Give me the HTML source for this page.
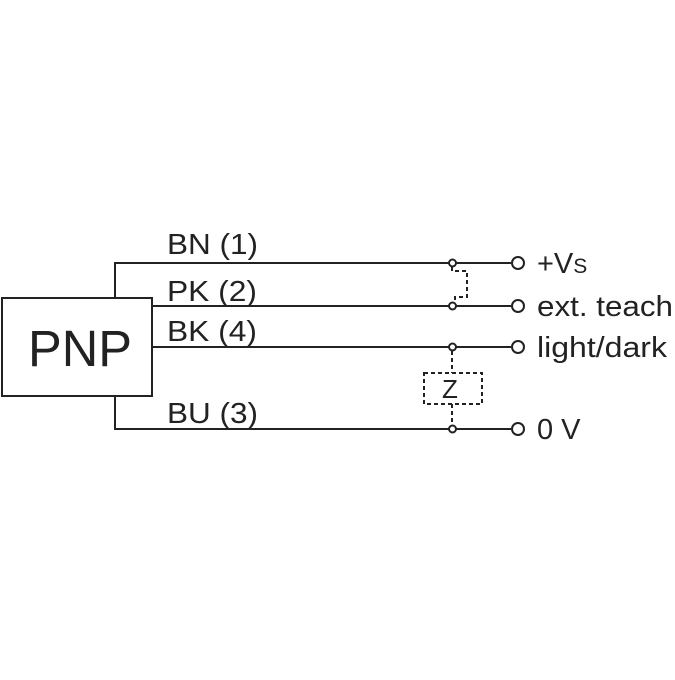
<!DOCTYPE html>
<html><head><style>body{margin:0;background:#fff}</style></head><body>
<svg width="675" height="675" xmlns="http://www.w3.org/2000/svg" font-family="Liberation Sans, sans-serif" fill="#222">
<g stroke="#222" stroke-width="2" fill="none">
<rect x="2" y="298" width="150" height="98"/>
<polyline points="115,298 115,263 449,263"/>
<line x1="152" y1="306" x2="449" y2="306"/>
<line x1="152" y1="347" x2="449" y2="347"/>
<polyline points="115,396 115,429 449,429"/>
<line x1="456" y1="263" x2="511" y2="263"/>
<line x1="456" y1="306" x2="511" y2="306"/>
<line x1="456" y1="347" x2="511" y2="347"/>
<line x1="456" y1="429" x2="511" y2="429"/>
<circle cx="452.5" cy="263" r="3.5" fill="#fff"/>
<circle cx="452.5" cy="306" r="3.5" fill="#fff"/>
<circle cx="452.5" cy="347" r="3.5" fill="#fff"/>
<circle cx="452.5" cy="429" r="3.5" fill="#fff"/>
<circle cx="518" cy="263" r="6" fill="#fff"/>
<circle cx="518" cy="306" r="6" fill="#fff"/>
<circle cx="518" cy="347" r="6" fill="#fff"/>
<circle cx="518" cy="429" r="6" fill="#fff"/>
<g stroke-dasharray="4,3">
<polyline points="452,267 452,271 467,271 467,297 455,297 455,302"/>
<line x1="452" y1="351" x2="452" y2="373"/>
<rect x="424" y="373" width="58" height="31"/>
<line x1="452" y1="404" x2="452" y2="425"/>
</g>
</g>
<text x="28" y="366" font-size="51" textLength="104" lengthAdjust="spacingAndGlyphs">PNP</text>
<g font-size="29">
<text x="167" y="254" textLength="91" lengthAdjust="spacingAndGlyphs">BN (1)</text>
<text x="167" y="301" textLength="90" lengthAdjust="spacingAndGlyphs">PK (2)</text>
<text x="167" y="341" textLength="90" lengthAdjust="spacingAndGlyphs">BK (4)</text>
<text x="167" y="423" textLength="91" lengthAdjust="spacingAndGlyphs">BU (3)</text>
<text x="537" y="273">+V<tspan font-size="21">S</tspan></text>
<text x="537" y="316" textLength="136" lengthAdjust="spacingAndGlyphs">ext. teach</text>
<text x="537" y="357" textLength="130" lengthAdjust="spacingAndGlyphs">light/dark</text>
<text x="537" y="439">0 V</text>
<text x="442" y="398" font-size="26">Z</text>
</g>
</svg>
</body></html>
